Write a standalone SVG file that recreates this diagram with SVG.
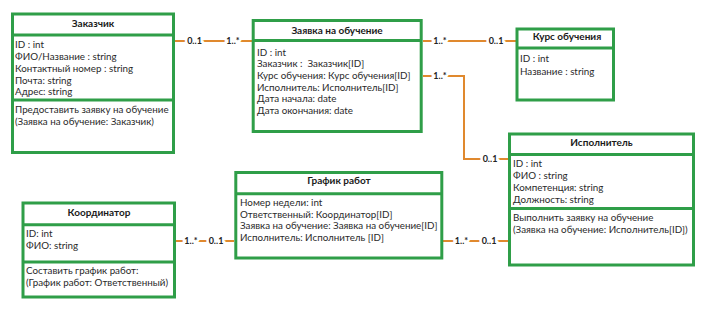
<svg xmlns="http://www.w3.org/2000/svg" width="714" height="333" viewBox="0 0 714 333">
  <style>
    .box { fill: #ffffff; stroke: #2f9e48; stroke-width: 3; }
    .div { stroke: #2f9e48; stroke-width: 3; }
    .title { font-family: Lato, "Liberation Sans", sans-serif; font-size: 10px; font-weight: bold; fill: #1a1a1a; text-anchor: middle; }
    .attr { font-family: Lato, "Liberation Sans", sans-serif; font-size: 9.8px; fill: #2a2a2a; }
    .link { fill: none; stroke: #e0892e; stroke-width: 2; }
    .mult { font-family: Lato, "Liberation Sans", sans-serif; font-size: 9px; font-weight: bold; fill: #222222; text-anchor: middle; stroke: #ffffff; stroke-width: 5; paint-order: stroke; }
  </style>
  <rect width="714" height="333" fill="#ffffff"/>

  <!-- associations -->
  <g id="connectors">
    <path class="link" d="M175 41 H252"/>
    <path class="link" d="M423 41 H516"/>
    <path class="link" d="M423 76 H464 V159 H508"/>
    <path class="link" d="M176 241 H234"/>
    <path class="link" d="M443 241 H508"/>
    <text class="mult" x="194.5" y="44">0..1</text>
    <text class="mult" x="233" y="44">1..*</text>
    <text class="mult" x="440" y="44">1..*</text>
    <text class="mult" x="496" y="44">0..1</text>
    <text class="mult" x="440" y="79">1..*</text>
    <text class="mult" x="490" y="162">0..1</text>
    <text class="mult" x="191" y="244">1..*</text>
    <text class="mult" x="216" y="244">0..1</text>
    <text class="mult" x="461.5" y="244">1..*</text>
    <text class="mult" x="489" y="244">0..1</text>
  </g>

  <!-- Заказчик -->
  <g id="customer">
    <rect class="box" x="12.5" y="14" width="161" height="138.5"/>
    <line class="div" x1="12.5" y1="35" x2="173.5" y2="35"/>
    <line class="div" x1="12.5" y1="100" x2="173.5" y2="100"/>
    <text class="title" x="93" y="27">Заказчик</text>
    <text class="attr" x="15" y="47.5">ID : int</text>
    <text class="attr" x="15" y="59.5">ФИО/Название : string</text>
    <text class="attr" x="15" y="71.5">Контактный номер : string</text>
    <text class="attr" x="15" y="83.5">Почта: string</text>
    <text class="attr" x="15" y="95">Адрес: string</text>
    <text class="attr" x="15" y="113">Предоставить заявку на обучение</text>
    <text class="attr" x="15" y="124.5">(Заявка на обучение: Заказчик)</text>
  </g>

  <!-- Заявка на обучение -->
  <g id="request">
    <rect class="box" x="253.2" y="20.5" width="168" height="111"/>
    <line class="div" x1="253.2" y1="40.5" x2="421.2" y2="40.5"/>
    <text class="title" x="337" y="34">Заявка на обучение</text>
    <text class="attr" x="257" y="55.5">ID : int</text>
    <text class="attr" x="257" y="67.2" xml:space="preserve">Заказчик :  Заказчик[ID]</text>
    <text class="attr" x="257" y="78.9">Курс обучения: Курс обучения[ID]</text>
    <text class="attr" x="257" y="90.6">Исполнитель: Исполнитель[ID]</text>
    <text class="attr" x="257" y="102.3">Дата начала: date</text>
    <text class="attr" x="257" y="114">Дата окончания: date</text>
  </g>

  <!-- Курс обучения -->
  <g id="course">
    <rect class="box" x="517" y="29" width="96.5" height="71"/>
    <line class="div" x1="517" y1="48" x2="613.5" y2="48"/>
    <text class="title" x="567" y="40">Курс обучения</text>
    <text class="attr" x="520" y="62">ID : int</text>
    <text class="attr" x="520" y="74.5">Название : string</text>
  </g>

  <!-- Исполнитель -->
  <g id="executor">
    <rect class="box" x="509.5" y="134" width="184" height="131"/>
    <line class="div" x1="509.5" y1="154.5" x2="693.5" y2="154.5"/>
    <line class="div" x1="509.5" y1="208.5" x2="693.5" y2="208.5"/>
    <text class="title" x="601.5" y="146">Исполнитель</text>
    <text class="attr" x="513" y="167">ID : int</text>
    <text class="attr" x="513" y="179">ФИО : string</text>
    <text class="attr" x="513" y="190.5">Компетенция: string</text>
    <text class="attr" x="513" y="203">Должность: string</text>
    <text class="attr" x="513" y="220.5">Выполнить заявку на обучение</text>
    <text class="attr" x="513" y="232.5">(Заявка на обучение: Исполнитель[ID])</text>
  </g>

  <!-- График работ -->
  <g id="schedule">
    <rect class="box" x="235.8" y="172.5" width="206" height="85.5"/>
    <line class="div" x1="235.8" y1="193.7" x2="441.8" y2="193.7"/>
    <text class="title" x="339" y="184">График работ</text>
    <text class="attr" x="240" y="206">Номер недели: int</text>
    <text class="attr" x="240" y="217.5">Ответственный: Координатор[ID]</text>
    <text class="attr" x="240" y="229">Заявка на обучение: Заявка на обучение[ID]</text>
    <text class="attr" x="240" y="241">Исполнитель: Исполнитель [ID]</text>
  </g>

  <!-- Координатор -->
  <g id="coordinator">
    <rect class="box" x="23" y="203" width="151.5" height="94"/>
    <line class="div" x1="23" y1="224.7" x2="174.5" y2="224.7"/>
    <line class="div" x1="23" y1="262" x2="174.5" y2="262"/>
    <text class="title" x="99" y="216">Координатор</text>
    <text class="attr" x="26" y="237">ID: int</text>
    <text class="attr" x="26" y="249">ФИО: string</text>
    <text class="attr" x="26" y="274">Составить график работ:</text>
    <text class="attr" x="26" y="285.5">(График работ: Ответственный)</text>
  </g>
</svg>
